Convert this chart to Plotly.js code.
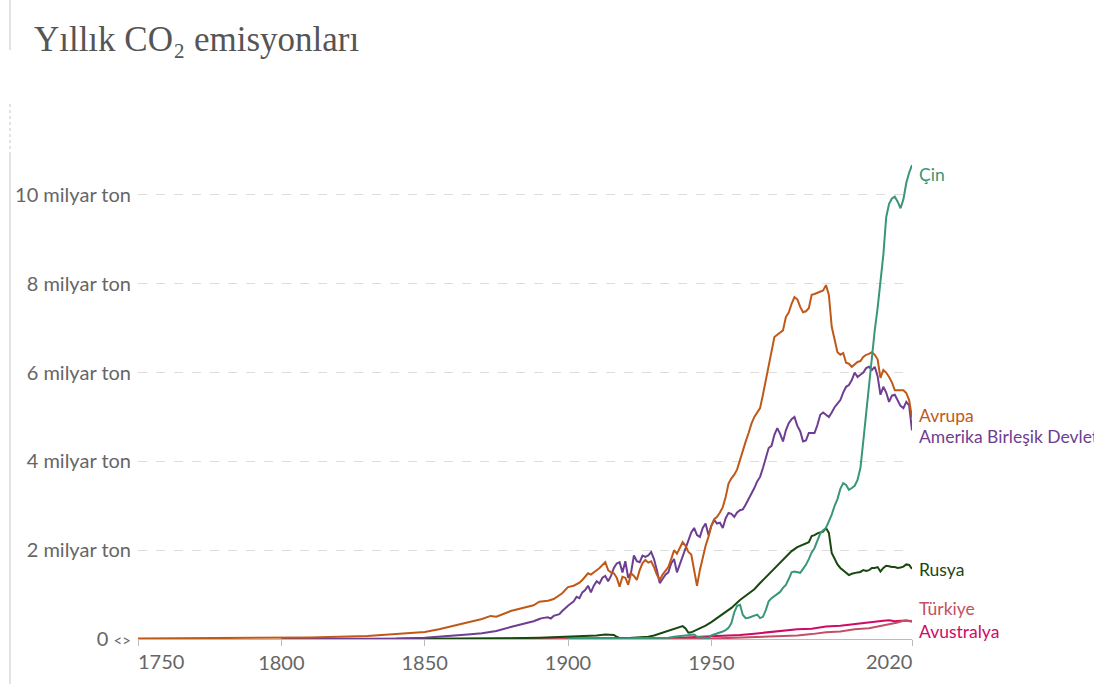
<!DOCTYPE html>
<html>
<head>
<meta charset="utf-8">
<script src="https://cdn.plot.ly/plotly-3.0.1.min.js"></script>
<style>
html,body{margin:0;padding:0;background:#fff;}
#chart{width:1094px;height:684px;}
</style>
</head>
<body>
<div id="chart"></div>
<script>
// ---- Data (billion tonnes CO2) ----
const yearsEurope = [1750,1760,1770,1780,1790,1800,1810,1820,1830,1840,1845,1850,1855,1860,1865,1870,1873,1875,1880,1883,1885,1888,1890,1893,1895,1898,1900,1902,1904,1905,1907,1908,1910,1911,1913,1914,1915,1916,1917,1918,1919,1920,1921,1922,1923,1924,1925,1926,1927,1928,1929,1930,1931,1932,1933,1934,1935,1936,1937,1938,1939,1940,1941,1942,1943,1944,1945,1946,1947,1948,1949,1950,1951,1952,1953,1954,1955,1956,1957,1958,1959,1960,1962,1963,1964,1965,1966,1967,1968,1969,1970,1971,1972,1973,1974,1975,1976,1977,1978,1979,1980,1981,1982,1983,1984,1985,1986,1987,1988,1989,1990,1991,1992,1993,1994,1995,1996,1997,1998,1999,2000,2001,2002,2003,2004,2005,2006,2007,2008,2009,2010,2011,2012,2013,2014,2015,2016,2017,2018,2019,2020];
const europe = [0.01,0.012,0.014,0.017,0.02,0.03,0.035,0.05,0.07,0.11,0.13,0.16,0.22,0.3,0.37,0.45,0.52,0.5,0.63,0.68,0.7,0.76,0.84,0.86,0.9,1.03,1.17,1.2,1.27,1.33,1.48,1.45,1.55,1.6,1.73,1.55,1.5,1.48,1.38,1.18,1.4,1.38,1.22,1.48,1.42,1.33,1.55,1.71,1.78,1.72,1.75,1.62,1.45,1.33,1.45,1.55,1.62,1.8,2.0,1.92,2.05,2.18,2.1,1.96,1.9,1.55,1.2,1.55,1.85,2.1,2.3,2.55,2.7,2.75,2.85,2.97,3.2,3.5,3.62,3.7,3.82,4.05,4.45,4.64,4.85,5.0,5.1,5.2,5.5,5.83,6.2,6.45,6.8,6.85,6.9,6.95,7.25,7.35,7.55,7.7,7.65,7.48,7.36,7.38,7.45,7.75,7.77,7.8,7.82,7.85,7.97,7.75,7.03,6.75,6.46,6.4,6.44,6.22,6.2,6.13,6.18,6.24,6.26,6.35,6.4,6.42,6.46,6.4,6.3,5.88,6.06,6.0,5.9,5.78,5.6,5.6,5.6,5.6,5.54,5.38,4.98];

const yearsUS = [1800,1810,1820,1830,1840,1850,1855,1860,1865,1870,1873,1875,1880,1883,1885,1888,1890,1891,1893,1894,1895,1897,1898,1899,1900,1901,1902,1903,1904,1905,1906,1907,1908,1909,1910,1911,1912,1913,1914,1915,1916,1917,1918,1919,1920,1921,1922,1923,1924,1925,1926,1927,1928,1929,1930,1931,1932,1933,1934,1935,1936,1937,1938,1939,1940,1941,1942,1943,1944,1945,1946,1947,1948,1949,1950,1951,1952,1953,1954,1955,1956,1957,1958,1959,1960,1961,1962,1963,1964,1965,1966,1967,1968,1969,1970,1971,1972,1973,1974,1975,1976,1977,1978,1979,1980,1981,1982,1983,1984,1985,1986,1987,1988,1989,1990,1991,1992,1993,1994,1995,1996,1997,1998,1999,2000,2001,2002,2003,2004,2005,2006,2007,2008,2009,2010,2011,2012,2013,2014,2015,2016,2017,2018,2019,2020];
const us = [0.001,0.002,0.003,0.005,0.01,0.03,0.05,0.07,0.1,0.13,0.17,0.18,0.27,0.32,0.34,0.4,0.45,0.47,0.49,0.46,0.52,0.56,0.63,0.7,0.75,0.8,0.85,0.95,0.92,1.05,1.1,1.2,1.05,1.2,1.3,1.25,1.38,1.42,1.3,1.42,1.6,1.7,1.73,1.5,1.75,1.38,1.5,1.88,1.75,1.73,1.88,1.85,1.88,1.96,1.8,1.55,1.26,1.35,1.45,1.5,1.7,1.8,1.5,1.68,1.85,2.05,2.2,2.4,2.5,2.34,2.3,2.5,2.6,2.34,2.55,2.68,2.6,2.62,2.5,2.72,2.84,2.82,2.75,2.85,2.9,2.92,3.03,3.15,3.3,3.4,3.55,3.65,3.85,4.05,4.3,4.35,4.6,4.75,4.62,4.45,4.7,4.86,4.95,5.0,4.8,4.68,4.45,4.47,4.64,4.64,4.64,4.82,5.05,5.1,5.06,5.0,5.1,5.22,5.3,5.38,5.55,5.68,5.72,5.83,6.0,5.9,5.95,6.0,6.1,6.13,6.06,6.13,5.92,5.5,5.68,5.55,5.34,5.48,5.5,5.38,5.25,5.2,5.34,5.26,4.7];

const yearsChina = [1900,1910,1920,1930,1935,1937,1940,1942,1944,1945,1947,1949,1950,1952,1954,1955,1956,1957,1958,1959,1960,1961,1962,1963,1964,1965,1966,1967,1968,1969,1970,1971,1972,1973,1974,1975,1976,1977,1978,1979,1980,1981,1982,1983,1984,1985,1986,1987,1988,1989,1990,1991,1992,1993,1994,1995,1996,1997,1998,1999,2000,2001,2002,2003,2004,2005,2006,2007,2008,2009,2010,2011,2012,2013,2014,2015,2016,2017,2018,2019,2020];
const china = [0.0,0.01,0.015,0.02,0.03,0.05,0.07,0.09,0.1,0.05,0.03,0.02,0.08,0.12,0.17,0.2,0.25,0.36,0.6,0.75,0.77,0.54,0.47,0.48,0.5,0.52,0.55,0.47,0.5,0.65,0.85,0.92,0.97,1.02,1.06,1.15,1.22,1.35,1.5,1.52,1.5,1.49,1.58,1.67,1.8,1.95,2.05,2.2,2.38,2.45,2.5,2.65,2.8,3.0,3.15,3.38,3.51,3.47,3.36,3.4,3.45,3.58,3.85,4.45,5.1,5.8,6.4,6.95,7.45,8.0,8.65,9.5,9.8,9.92,9.96,9.85,9.7,9.9,10.27,10.5,10.67];

const yearsRussia = [1830,1850,1860,1870,1880,1890,1895,1900,1905,1910,1913,1915,1916,1917,1918,1920,1922,1925,1928,1930,1932,1934,1936,1938,1940,1941,1942,1943,1944,1945,1946,1948,1950,1953,1955,1957,1960,1963,1965,1967,1970,1972,1974,1976,1978,1980,1982,1984,1985,1986,1987,1988,1989,1990,1991,1992,1993,1994,1995,1996,1997,1998,1999,2000,2001,2002,2003,2004,2005,2006,2007,2008,2009,2010,2011,2012,2013,2014,2015,2016,2017,2018,2019,2020];
const russia = [0.0,0.002,0.004,0.008,0.015,0.03,0.04,0.06,0.07,0.08,0.1,0.09,0.09,0.05,0.02,0.015,0.02,0.03,0.05,0.08,0.12,0.16,0.2,0.25,0.29,0.24,0.14,0.15,0.18,0.2,0.24,0.3,0.38,0.52,0.6,0.7,0.88,1.02,1.12,1.26,1.45,1.58,1.71,1.85,1.98,2.07,2.12,2.18,2.32,2.34,2.38,2.4,2.42,2.5,2.39,1.94,1.8,1.68,1.6,1.55,1.48,1.44,1.47,1.49,1.5,1.51,1.55,1.53,1.55,1.6,1.6,1.62,1.52,1.6,1.65,1.64,1.62,1.62,1.6,1.61,1.63,1.68,1.67,1.58];

const yearsTurkey = [1850,1900,1920,1930,1940,1950,1955,1960,1965,1970,1975,1980,1985,1990,1995,2000,2005,2008,2010,2012,2014,2015,2017,2018,2019,2020];
const turkey = [0.0,0.001,0.002,0.005,0.008,0.012,0.02,0.03,0.04,0.05,0.07,0.08,0.11,0.15,0.17,0.22,0.24,0.28,0.3,0.33,0.35,0.37,0.41,0.42,0.4,0.41];

const yearsAustralia = [1860,1880,1900,1920,1930,1940,1946,1950,1955,1960,1965,1970,1975,1980,1985,1990,1995,2000,2005,2008,2010,2012,2014,2016,2018,2019,2020];
const australia = [0.001,0.005,0.01,0.02,0.025,0.03,0.05,0.06,0.08,0.09,0.12,0.15,0.18,0.22,0.23,0.28,0.3,0.34,0.38,0.41,0.41,0.42,0.4,0.41,0.42,0.41,0.39];

const yTickVals = [0,2,4,6,8,10];
const yTickText = ["0 <span style='font-size:15px'>&lt;&gt;</span>","2 milyar ton","4 milyar ton","6 milyar ton","8 milyar ton","10 milyar ton"];
const xTickVals = [1750,1800,1850,1900,1950,2020];
const xTickText = ["","1800","1850","1900","1950",""];

const seriesNames = ["Avustralya","Türkiye","Rusya","Amerika Birleşik Devletleri","Avrupa","Çin"];
const colors = {
  "Çin":"#38967a",
  "Avrupa":"#c05917",
  "Amerika Birleşik Devletleri":"#6d3e91",
  "Rusya":"#18470f",
  "Türkiye":"#c15065",
  "Avustralya":"#cf0a66"
};
const seriesData = {
  "Çin":[yearsChina,china],
  "Avrupa":[yearsEurope,europe],
  "Amerika Birleşik Devletleri":[yearsUS,us],
  "Rusya":[yearsRussia,russia],
  "Türkiye":[yearsTurkey,turkey],
  "Avustralya":[yearsAustralia,australia]
};
// label vertical placement (value units) for end labels
const labelY = {
  "Çin":10.45,"Avrupa":5.04,"Amerika Birleşik Devletleri":4.55,
  "Rusya":1.56,"Türkiye":0.68,"Avustralya":0.18
};

const traces = seriesNames.map(n => ({
  type:'scatter', mode:'lines', name:n,
  x:seriesData[n][0], y:seriesData[n][1],
  line:{color:colors[n], width:2},
  hoverinfo:'skip'
}));

const font = "Lato, 'Open Sans', sans-serif";
const annotations = seriesNames.map(n => ({
  x:2020, y:labelY[n], xref:'x', yref:'y', text:n, showarrow:false,
  xanchor:'left', yanchor:'middle', xshift:5,
  font:{family:font, size:17.5, color:colors[n]}
}));
annotations.push({x:1750, y:0, xref:'x', yref:'paper', text:"1750", showarrow:false,
  xanchor:'left', yanchor:'top', yshift:-8, xshift:-2, font:{family:font, size:20, color:'#666'}});
annotations.push({x:2020, y:0, xref:'x', yref:'paper', text:"2020", showarrow:false,
  xanchor:'right', yanchor:'top', yshift:-8, xshift:2, font:{family:font, size:20, color:'#666'}});

const layout = {
  width:1094, height:684,
  paper_bgcolor:'#fff', plot_bgcolor:'#fff',
  margin:{l:138, r:182, t:155, b:45},
  showlegend:false,
  title:{text:"Yıllık CO₂ emisyonları", x:0.031, xanchor:'left', y:0.944, yanchor:'middle',
         font:{family:"'Liberation Serif', 'DejaVu Serif', serif", size:35, color:'#555'}},
  xaxis:{range:[1750,2020], tickvals:xTickVals, ticktext:xTickText, showgrid:false, zeroline:false,
         showline:true, linecolor:'#bbb', linewidth:1, ticks:'outside', ticklen:6, tickcolor:'#bbb',
         tickfont:{family:font, size:20, color:'#666'}, fixedrange:true},
  yaxis:{range:[0,10.9], tickvals:yTickVals, ticktext:yTickText, showgrid:true, gridcolor:'#ddd',
         griddash:'dash', gridwidth:1, zeroline:false, showline:false, ticks:'',
         ticklabelstandoff:6,
         tickfont:{family:font, size:20, color:'#666'}, fixedrange:true},
  annotations:annotations,
  shapes:[
    {type:'line', xref:'paper', yref:'paper', x0:-0.1654, x1:-0.1654, y0:-0.1, y1:1.0, line:{color:'#e3e3e3', width:2}},
    {type:'line', xref:'paper', yref:'paper', x0:-0.1654, x1:-0.1654, y0:1.217, y1:1.33, line:{color:'#e3e3e3', width:2}},
    {type:'line', xref:'paper', yref:'paper', x0:-0.1654, x1:-0.1654, y0:1.0, y1:1.11, line:{color:'#e3e3e3', width:2, dash:'dot'}}
  ]
};

Plotly.newPlot('chart', traces, layout, {displayModeBar:false, staticPlot:true});
</script>
</body>
</html>
